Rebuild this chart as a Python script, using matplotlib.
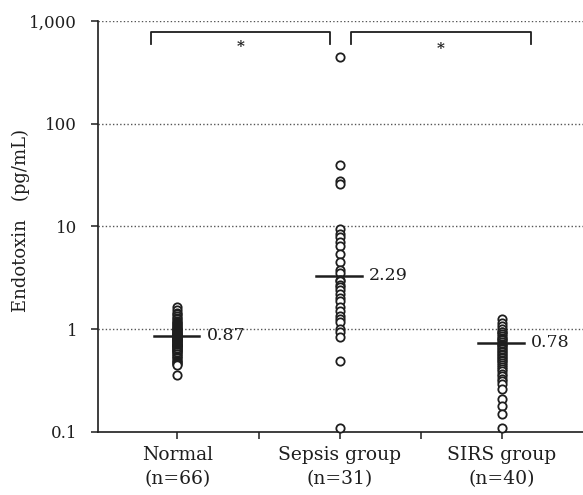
import matplotlib
matplotlib.use("Agg")
import matplotlib.pyplot as plt
from matplotlib.ticker import FixedLocator, NullLocator

categories = ["Normal\n(n=66)", "Sepsis group\n(n=31)", "SIRS group\n(n=40)"]
normal = [1.65, 1.55, 1.45, 1.4, 1.35, 1.3, 1.25, 1.2, 1.18, 1.15, 1.12, 1.1, 1.08,
          1.05, 1.02, 1.0, 1.0, 0.98, 0.96, 0.95, 0.93, 0.92, 0.9, 0.9, 0.88, 0.87,
          0.86, 0.85, 0.84, 0.83, 0.82, 0.8, 0.8, 0.79, 0.78, 0.77, 0.76, 0.75, 0.74,
          0.73, 0.72, 0.71, 0.7, 0.7, 0.69, 0.68, 0.67, 0.66, 0.65, 0.64, 0.63, 0.62,
          0.61, 0.6, 0.58, 0.57, 0.55, 0.54, 0.52, 0.5, 0.49, 0.48, 0.47, 0.46, 0.45, 0.36]
sepsis = [444, 40, 28, 26, 9.4, 8.5, 7.9, 7.0, 6.4, 5.4, 4.5, 3.8, 3.5, 3.0, 2.93,
          2.7, 2.56, 2.4, 2.19, 2.0, 1.87, 1.64, 1.5, 1.34, 1.25, 1.17, 1.0, 0.95,
          0.84, 0.49, 0.11]
sirs = [1.25, 1.15, 1.07, 1.0, 0.95, 0.93, 0.9, 0.86, 0.83, 0.8, 0.78, 0.75, 0.72,
        0.7, 0.68, 0.66, 0.64, 0.62, 0.6, 0.58, 0.56, 0.54, 0.52, 0.5, 0.49, 0.47,
        0.45, 0.43, 0.41, 0.39, 0.37, 0.35, 0.33, 0.31, 0.29, 0.26, 0.21, 0.18,
        0.15, 0.11]
median_drawn = [0.86, 3.3, 0.74]
median_labels = ["0.87", "2.29", "0.78"]
ytick_vals = [0.1, 1, 10, 100, 1000]
ytick_labels = ["0.1", "1", "10", "100", "1,000"]
grid_vals = [1, 10, 100, 1000]
brackets = [(-0.16, 0.94), (1.07, 2.18)]

ink = "#1e1e1e"
plt.rcParams["font.family"] = ["DejaVu Serif"]

fig = plt.figure(figsize=(5.83, 4.95), dpi=100)
ax = fig.add_axes([0.168, 0.1273, 0.832, 0.8303])
ax.set_yscale("log")
ax.set_ylim(0.1, 1000)
ax.set_xlim(-0.49, 2.5)

for g in grid_vals:
    ax.axhline(g, color="#555555", linestyle=(0, (1, 1.6)), linewidth=1.0, zorder=1)

groups = [normal, sepsis, sirs]
for i, vals in enumerate(groups):
    ax.plot([i] * len(vals), vals, linestyle="none", marker="o", markersize=6,
            markerfacecolor="white", markeredgecolor=ink, markeredgewidth=1.3,
            clip_on=False, zorder=3)
    ax.plot([i - 0.145, i + 0.135], [median_drawn[i]] * 2, color=ink, linewidth=1.8, zorder=4)
    ax.text(i + 0.18, median_drawn[i], median_labels[i], ha="left", va="center",
            fontsize=12.5, color=ink)

# brackets with asterisks
ytop, ybot = 780, 600
for k, (a, b) in enumerate(brackets):
    ax.plot([a, a, b, b], [ybot, ytop, ytop, ybot], color=ink, linewidth=1.3, zorder=2)
    ax.text((a + b) / 2, 560 if k == 0 else 530, "*", ha="center", va="center",
            fontsize=11, fontweight="bold", color=ink)

for s in ["top", "right"]:
    ax.spines[s].set_visible(False)
for s in ["left", "bottom"]:
    ax.spines[s].set_color(ink)
    ax.spines[s].set_linewidth(1.2)

ax.yaxis.set_major_locator(FixedLocator(ytick_vals))
ax.yaxis.set_minor_locator(NullLocator())
ax.set_yticklabels(ytick_labels)
ax.set_xticks([0, 0.5, 1, 1.5, 2])
ax.set_xticklabels([categories[0], "", categories[1], "", categories[2]])
ax.tick_params(axis="both", direction="out", length=5, width=1.1, colors=ink, pad=3)
ax.tick_params(axis="y", labelsize=12, pad=10)
ax.tick_params(axis="x", labelsize=13.5, pad=5)
for lbl in ax.get_xticklabels():
    lbl.set_linespacing(1.45)
ax.set_ylabel("Endotoxin\u2003(pg/mL)", fontsize=13, color=ink)
ax.yaxis.set_label_coords(-0.14, 0.515)

fig.savefig("out.png", dpi=100)
